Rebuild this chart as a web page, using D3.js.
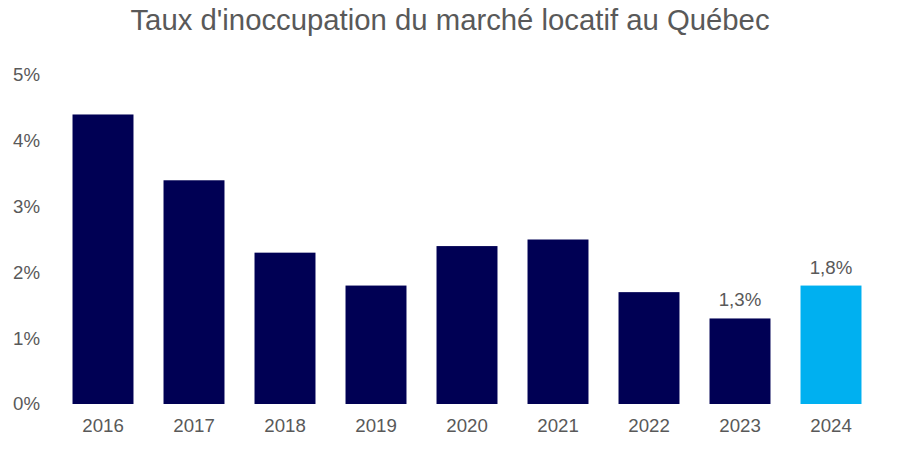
<!DOCTYPE html>
<html><head><meta charset="utf-8">
<script src="https://cdn.jsdelivr.net/npm/d3@7"></script>
<style>body{margin:0;background:#fff;} svg{display:block;font-family:"Liberation Sans",Arial,sans-serif;}</style>
</head><body>
<svg id="c" width="899" height="450"></svg>
<script>
const years = ["2016","2017","2018","2019","2020","2021","2022","2023","2024"];
const rates = [4.4, 3.4, 2.3, 1.8, 2.4, 2.5, 1.7, 1.3, 1.8];
const labelled = ["2023","2024"];
const yTicks = [0,1,2,3,4,5];

const svg = d3.select("#c");
const margin = {left:57.5, right:22.5, top:75, bottom:46};
const W = 899, H = 450;
const FF = "'Liberation Sans', Arial, sans-serif";
const x = d3.scaleBand().domain(years).range([margin.left, W - margin.right]).paddingInner(0.33).paddingOuter(0.165);
const y = d3.scaleLinear().domain([0,5]).range([H - margin.bottom, margin.top]);
const grey = "#595959";

svg.append("text").attr("x", 450).attr("y", 30).attr("text-anchor","middle")
  .attr("font-family", FF).attr("font-size", 29.3).attr("fill", grey)
  .text("Taux d'inoccupation du marché locatif au Québec");

const yAxis = svg.append("g").attr("transform", `translate(${margin.left},0)`)
  .call(d3.axisLeft(y).tickValues(yTicks).tickFormat(d => d + "%").tickSize(0).tickPadding(17.5));
yAxis.select(".domain").remove();
yAxis.selectAll("text").attr("font-size", 18.67).attr("fill", grey).attr("font-family", FF);

const xAxis = svg.append("g").attr("transform", `translate(0,${H - margin.bottom})`)
  .call(d3.axisBottom(x).tickSize(0).tickPadding(14.5));
xAxis.select(".domain").remove();
xAxis.selectAll("text").attr("font-size", 18.67).attr("fill", grey).attr("font-family", FF);

svg.append("g").selectAll("text").data(years.filter(d => labelled.includes(d))).join("text")
  .attr("x", d => x(d) + x.bandwidth()/2)
  .attr("y", d => y(rates[years.indexOf(d)]) - 12)
  .attr("text-anchor","middle").attr("font-size",18.67).attr("fill", grey).attr("font-family", FF)
  .text(d => String(rates[years.indexOf(d)]).replace(".", ",") + "%");

svg.append("g").selectAll("rect").data(years).join("rect")
  .attr("x", d => x(d)).attr("width", x.bandwidth())
  .attr("y", (d,i) => y(rates[i])).attr("height", (d,i) => y(0) - y(rates[i]))
  .attr("fill", d => d === "2024" ? "#00B0F0" : "#000054");
</script>
</body></html>
